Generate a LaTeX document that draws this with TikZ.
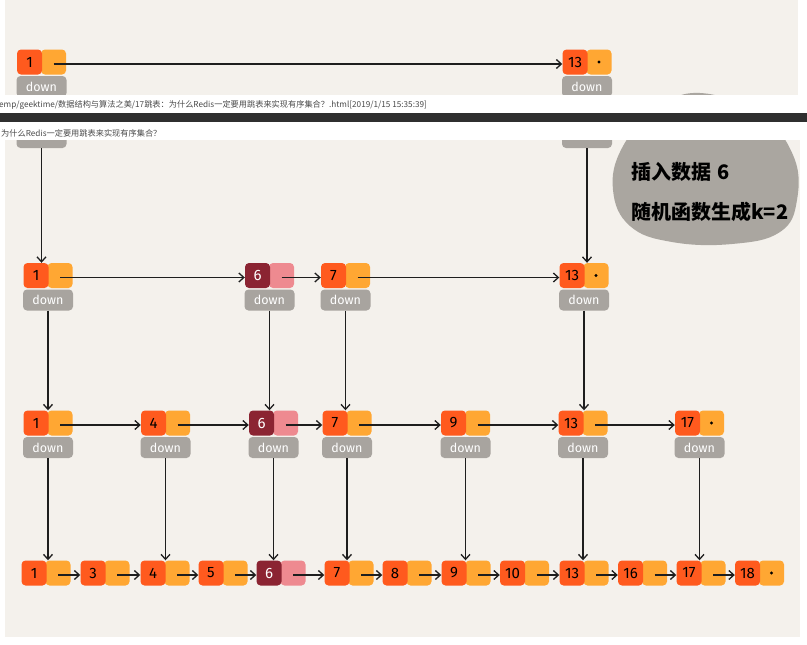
\documentclass[tikz,border=0pt]{standalone}
\usepackage{fontspec}
\setmainfont{Fira Sans}
\newfontfamily\cjk{Noto Sans CJK SC}
\usetikzlibrary{arrows.meta}

\definecolor{paper}{HTML}{F4F1EC}
\definecolor{keyc}{HTML}{FF5A1E}
\definecolor{ptrc}{HTML}{FFA733}
\definecolor{downc}{HTML}{A8A49F}
\definecolor{newkey}{HTML}{8B2432}
\definecolor{newptr}{HTML}{EE8A90}
\definecolor{blobc}{HTML}{AAA6A0}
\definecolor{linec}{HTML}{1E1E1E}
\definecolor{barc}{HTML}{2F2F2F}
\definecolor{hdrtext}{HTML}{4A4A4A}

\tikzset{
  keysq/.style={fill=keyc, rounded corners=4pt, minimum width=25pt, minimum height=25pt,
    inner sep=0pt, text=black, font=\fontsize{15}{15}\selectfont},
  ptrsq/.style={fill=ptrc, rounded corners=4pt, minimum width=25pt, minimum height=25pt,
    inner sep=0pt},
  newkeysq/.style={keysq, fill=newkey, text=white},
  newptrsq/.style={ptrsq, fill=newptr},
  downbox/.style={fill=downc, rounded corners=4pt, minimum width=50pt, minimum height=21pt,
    inner sep=0pt, text=white, font=\fontsize{12.5}{12.5}\selectfont},
  link/.style={draw=linec, line width=1.3pt,
    -{Straight Barb[length=5pt,width=9pt,line width=1.3pt]}},
  hdr/.style={anchor=west, inner sep=0pt, text=hdrtext, font=\cjk\fontsize{8.2}{9}\selectfont},
  note/.style={anchor=west, inner sep=0pt, text=black, font=\cjk\bfseries\fontsize{20}{20}\selectfont},
}

% list element: key square + pointer square, centred on (x,y)
\newcommand\slnode[4]{%
  \node[ptrsq] (#1p) at (#2+12,#3) {};
  \node[keysq] (#1) at (#2-12,#3) {#4};}
\newcommand\slnewnode[4]{%
  \node[newptrsq] (#1p) at (#2+12,#3) {};
  \node[newkeysq] (#1) at (#2-12,#3) {#4};}
% "down" pointer box below an element
\newcommand\sldown[3]{\node[downbox] (#1d) at (#2,#3+24.5) {down};}
% horizontal link between two elements
\newcommand\hlink[2]{\draw[link] ([yshift=-2pt]#1p.center) -- ([yshift=-2pt]#2.west);}
% vertical link from a down box to the element below
\newcommand\vlink[2]{\draw[link] (#1d.south) -- (#1d.south |- #2.north);}

\begin{document}
\begin{tikzpicture}[x=1pt,y=-1pt]
\useasboundingbox (0,0) rectangle (807,645);
\fill[white] (0,0) rectangle (807,645);

% paper panels
\fill[paper] (5,0) rectangle (798,95);
\fill[paper] (5,140) rectangle (800,637);

% note bubble
\fill[blobc] plot[smooth cycle, tension=0.7] coordinates
  {(613,190) (630,226) (672,242) (732,244) (780,232) (797,200) (793,155)
   (760,115) (700,93) (655,110) (622,148)};
\node[note] (n1) at (631,172) {插入数据\hspace{6pt}6};
\node[note] (n2) at (631,212) {随机函数生成k=2};

% top level
\slnode{a1}{41.5}{62}{1}
\slnode{a13}{587}{62}{13}
\sldown{a1}{41.5}{62}
\sldown{a13}{587}{62}
% lower ends of the same down boxes, below the header strip
\node[downbox] (a1c) at (41.5,137.5) {};
\node[downbox] (a13c) at (587,137.5) {};
\fill (a13p.center) circle (1.6);
\hlink{a1}{a13}

% second level
\slnode{b1}{48}{275.5}{1}
\slnewnode{b6}{269.5}{275.5}{6}
\slnode{b7}{345.5}{275.5}{7}
\slnode{b13}{584}{275.5}{13}
\foreach \n/\x in {b1/48, b6/269.5, b7/345.5, b13/584} {\sldown{\n}{\x}{275.5}}
\fill (b13p.center) circle (1.6);
\hlink{b1}{b6}
\hlink{b6}{b7}
\hlink{b7}{b13}

% third level
\slnode{c1}{48}{423}{1}
\slnode{c4}{165.5}{423}{4}
\slnewnode{c6}{273.5}{423}{6}
\slnode{c7}{347}{423}{7}
\slnode{c9}{465.5}{423}{9}
\slnode{c13}{583}{423}{13}
\slnode{c17}{699.5}{423}{17}
\foreach \n/\x in {c1/48, c4/165.5, c6/273.5, c7/347, c9/465.5, c13/583, c17/699.5}
  {\sldown{\n}{\x}{423}}
\fill (c17p.center) circle (1.6);
\hlink{c1}{c4}
\hlink{c4}{c6}
\hlink{c6}{c7}
\hlink{c7}{c9}
\hlink{c9}{c13}
\hlink{c13}{c17}

% base list
\slnode{d1}{46}{573}{1}
\slnode{d3}{105}{573}{3}
\slnode{d4}{165}{573}{4}
\slnode{d5}{223}{573}{5}
\slnewnode{d6}{281}{573}{6}
\slnode{d7}{349}{573}{7}
\slnode{d8}{407}{573}{8}
\slnode{d9}{466}{573}{9}
\slnode{d10}{524.5}{573}{10}
\slnode{d13}{584}{573}{13}
\slnode{d16}{642.5}{573}{16}
\slnode{d17}{701}{573}{17}
\slnode{d18}{759.5}{573}{18}
\fill (d18p.center) circle (1.6);
\hlink{d1}{d3}
\hlink{d3}{d4}
\hlink{d4}{d5}
\hlink{d5}{d6}
\hlink{d6}{d7}
\hlink{d7}{d8}
\hlink{d8}{d9}
\hlink{d9}{d10}
\hlink{d10}{d13}
\hlink{d13}{d16}
\hlink{d16}{d17}
\hlink{d17}{d18}

% level-to-level links
\draw[link] (a1c.south) -- (a1c.south |- b1.north);
\draw[link] (a13c.south) -- (a13c.south |- b13.north);
\vlink{b1}{c1}
\vlink{b6}{c6}
\vlink{b7}{c7}
\vlink{b13}{c13}
\vlink{c1}{d1}
\vlink{c4}{d4}
\vlink{c6}{d6}
\vlink{c7}{d7}
\vlink{c9}{d9}
\vlink{c13}{d13}
\vlink{c17}{d17}

% page header strip
\fill[white] (0,95) rectangle (807,113);
\fill[barc] (0,113) rectangle (807,122);
\fill[white] (0,122) rectangle (807,140);
\node[hdr] (path) at (-1,105) {emp/geektime/数据结构与算法之美/17跳表：为什么Redis一定要用跳表来实现有序集合？.html[2019/1/15 15:35:39]};
\node[hdr] (title) at (1,133) {为什么Redis一定要用跳表来实现有序集合？};
\end{tikzpicture}
\end{document}
